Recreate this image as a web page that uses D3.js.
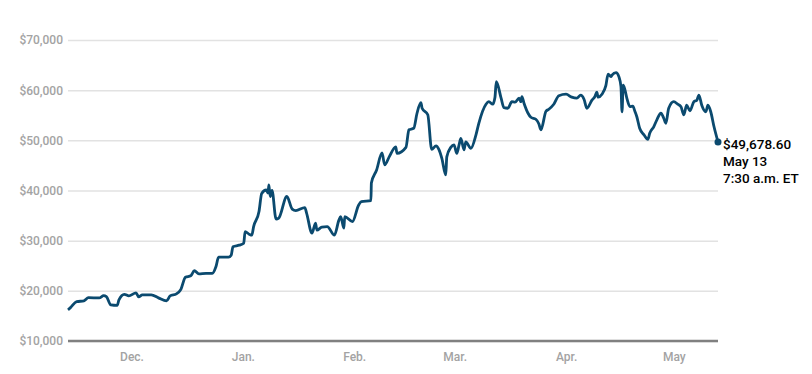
<!DOCTYPE html>
<html>
<head>
<meta charset="utf-8">
<script src="https://cdn.jsdelivr.net/npm/d3@7"></script>
<style>
  body { margin: 0; background: #fff; }
  svg text { font-family: Roboto, "Noto Sans", sans-serif; }
</style>
</head>
<body>
<div id="chart"></div>
<script>
// bitcoin price, Nov 13 2020 - May 13 2021
const dates = [
  "2020-11-13T07:30","2020-11-14T00","2020-11-15T18","2020-11-17T18","2020-11-19T00","2020-11-22T00",
  "2020-11-23T06","2020-11-24T00","2020-11-25T06","2020-11-27T00","2020-11-27T12","2020-11-29T00",
  "2020-11-30T06","2020-12-02T06","2020-12-03T00","2020-12-04T00","2020-12-06T12","2020-12-08T12",
  "2020-12-10T18","2020-12-11T18","2020-12-13T12","2020-12-14T18","2020-12-16T00","2020-12-17T12",
  "2020-12-18T12","2020-12-19T18","2020-12-21T18","2020-12-23T12","2020-12-24T12","2020-12-25T06",
  "2020-12-28T00","2020-12-28T18","2020-12-29T06","2020-12-31T00","2021-01-01T06","2021-01-01T15",
  "2021-01-02T18","2021-01-03T12","2021-01-04T00","2021-01-05T12","2021-01-06T06","2021-01-07T12",
  "2021-01-08T00","2021-01-08T06","2021-01-08T15","2021-01-09T03","2021-01-10T06","2021-01-11T00",
  "2021-01-13T06","2021-01-14T18","2021-01-15T18","2021-01-18T06","2021-01-18T18","2021-01-20T06",
  "2021-01-21T06","2021-01-21T15","2021-01-23T00","2021-01-24T12","2021-01-26T12","2021-01-27T18",
  "2021-01-28T06","2021-01-29T03","2021-01-29T09","2021-01-31T12","2021-02-02T06","2021-02-03T00",
  "2021-02-05T16","2021-02-05T19","2021-02-07T06","2021-02-08T18","2021-02-09T12","2021-02-10T18",
  "2021-02-12T14","2021-02-12T22","2021-02-15T10","2021-02-16T06","2021-02-17T14","2021-02-18T12",
  "2021-02-19T14","2021-02-19T22","2021-02-21T12","2021-02-22T14","2021-02-23T19","2021-02-24T14",
  "2021-02-25T10","2021-02-26T12","2021-02-26T19","2021-02-27T22","2021-02-28T19","2021-03-01T14",
  "2021-03-02T05","2021-03-02T17","2021-03-03T14","2021-03-04T02","2021-03-05T12","2021-03-06T22",
  "2021-03-07T17","2021-03-09T17","2021-03-10T12","2021-03-11T14","2021-03-12T05","2021-03-12T14",
  "2021-03-13T22","2021-03-14T17","2021-03-15T19","2021-03-16T22","2021-03-17T19","2021-03-18T22",
  "2021-03-19T10","2021-03-19T17","2021-03-20T07","2021-03-21T10","2021-03-22T05","2021-03-23T14",
  "2021-03-24T10","2021-03-25T00","2021-03-26T10","2021-03-27T05","2021-03-28T14","2021-03-30T00",
  "2021-04-01T00","2021-04-02T14","2021-04-04T00","2021-04-05T02","2021-04-06T00","2021-04-06T19",
  "2021-04-08T05","2021-04-09T00","2021-04-09T14","2021-04-09T22","2021-04-11T00","2021-04-12T02",
  "2021-04-12T17","2021-04-13T12","2021-04-13T19","2021-04-14T22","2021-04-15T17","2021-04-16T07",
  "2021-04-16T14","2021-04-16T22","2021-04-17T10","2021-04-18T00","2021-04-18T19","2021-04-19T14",
  "2021-04-20T05","2021-04-20T17","2021-04-21T12","2021-04-22T17","2021-04-23T19","2021-04-24T07",
  "2021-04-25T10","2021-04-26T07","2021-04-27T10","2021-04-28T05","2021-04-28T19","2021-04-29T14",
  "2021-05-01T00","2021-05-02T02","2021-05-03T00","2021-05-03T19","2021-05-04T14","2021-05-05T12",
  "2021-05-06T14","2021-05-07T10","2021-05-08T00","2021-05-08T19","2021-05-09T22","2021-05-10T12",
  "2021-05-11T07","2021-05-12T05","2021-05-13T07:30"
];
const prices = [
  16200,16650,17850,18000,18640,18580,
  19040,18840,17200,17100,18200,19300,
  19000,19600,18800,19200,19200,18600,
  18000,19000,19400,20300,22700,23000,
  24000,23400,23500,23500,24800,26700,
  26700,27100,28800,29100,29500,31800,
  31300,31100,32800,35800,39400,40100,
  39500,41100,38800,40000,34300,34500,
  38800,36300,36000,36600,35500,31500,
  33500,32100,32700,32800,31100,34100,
  34800,32500,34800,33800,37100,37800,
  38000,41500,44100,47500,45100,46700,
  48700,47400,48600,52100,52400,55400,
  57500,56400,55100,48200,48900,48200,
  46400,43100,46700,48600,49100,47400,
  49100,50400,48100,49700,48400,51100,
  53400,57200,57700,57200,58600,61700,
  58400,56500,56400,57700,57600,58400,
  57700,58700,57400,55400,54600,54200,
  53300,52100,55800,56200,57200,58900,
  59200,58600,58400,59000,58200,56400,
  58000,58700,59600,58600,59200,60900,
  63200,62700,63000,63500,62700,60700,
  55700,61000,60000,58200,56700,56800,
  55700,54700,52400,51100,50200,51400,
  52700,54100,55400,54400,53400,56400,
  57700,57200,56700,55100,57000,55900,
  57700,58000,59000,57000,55700,57000,
  55700,52700,49678.6
];
const yTicks = [10000, 20000, 30000, 40000, 50000, 60000, 70000];
const monthTicks = ["2020-12-01", "2021-01-01", "2021-02-01", "2021-03-01", "2021-04-01", "2021-05-01"];
const monthNames = ["Dec.", "Jan.", "Feb.", "Mar.", "Apr.", "May"];
const lastLabel = ["$49,678.60", "May 13", "7:30 a.m. ET"];

const W = 812, H = 374;
const margin = {top: 40, right: 94, bottom: 33, left: 68};
const lineColor = "#0b4a6f";

const parse = d3.isoParse;
const data = dates.map((d, i) => ({date: parse(d.length === 13 ? d + ":00" : d), value: prices[i]}));

const svg = d3.select("#chart").append("svg")
  .attr("width", W)
  .attr("height", H);

const x = d3.scaleTime()
  .domain(d3.extent(data, d => d.date))
  .range([margin.left, W - margin.right]);

const y = d3.scaleLinear()
  .domain([10000, 70000])
  .range([H - margin.bottom, margin.top]);

// grid lines + y labels
const yAxis = svg.append("g")
  .attr("transform", "translate(" + margin.left + ",0)")
  .call(d3.axisLeft(y)
    .tickValues(yTicks)
    .tickSize(-(W - margin.left - margin.right))
    .tickPadding(5)
    .tickFormat(d => "$" + d3.format(",")(d)));
yAxis.select(".domain").remove();
yAxis.selectAll(".tick line")
  .attr("stroke", "#e2e2e2")
  .attr("stroke-width", 1.5);
yAxis.selectAll(".tick text")
  .attr("fill", "#a3a3a3")
  .attr("font-size", 12)
  .attr("font-weight", 500);

// baseline
svg.append("line")
  .attr("x1", margin.left)
  .attr("x2", W - margin.right)
  .attr("y1", y(10000))
  .attr("y2", y(10000))
  .attr("stroke", "#808080")
  .attr("stroke-width", 2.5);

// x labels
const xAxis = svg.append("g")
  .attr("transform", "translate(0," + (H - margin.bottom) + ")")
  .call(d3.axisBottom(x)
    .tickValues(monthTicks.map(d => parse(d + "T00:00")))
    .tickSize(0)
    .tickPadding(11)
    .tickFormat((d, i) => monthNames[i]));
xAxis.select(".domain").remove();
xAxis.selectAll(".tick text")
  .attr("fill", "#a3a3a3")
  .attr("font-size", 12)
  .attr("font-weight", 500);

// price line
const line = d3.line()
  .x(d => x(d.date))
  .y(d => y(d.value))
  .curve(d3.curveMonotoneX);

svg.append("path")
  .datum(data)
  .attr("fill", "none")
  .attr("stroke", lineColor)
  .attr("stroke-width", 2.8)
  .attr("stroke-linejoin", "round")
  .attr("d", line);

// last point
const last = data[data.length - 1];
svg.append("circle")
  .attr("cx", x(last.date))
  .attr("cy", y(last.value))
  .attr("r", 3.5)
  .attr("fill", lineColor);

svg.append("g")
  .selectAll("text")
  .data(lastLabel)
  .enter()
  .append("text")
    .attr("x", x(last.date) + 5)
    .attr("y", (d, i) => y(last.value) + 7 + i * 17)
    .attr("font-size", 13.5)
    .attr("font-weight", 500)
    .attr("fill", "#000")
    .text(d => d);
</script>
</body>
</html>
